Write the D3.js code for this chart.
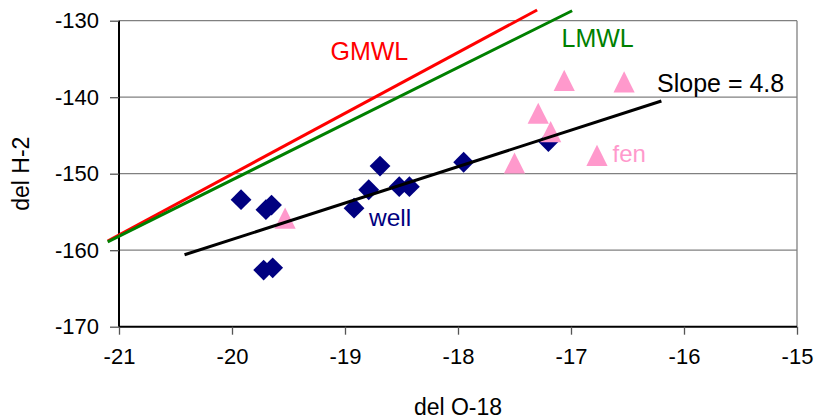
<!DOCTYPE html>
<html><head><meta charset="utf-8">
<script src="https://cdn.jsdelivr.net/npm/d3@7"></script>
<style>body{margin:0;background:#fff}svg{display:block;font-family:"Liberation Sans",Arial,sans-serif}</style>
</head><body><svg id="c" width="818" height="420"></svg>
<script>
// data
const wellO18 = [-19.92,-19.70,-19.65,-19.72,-19.64,-18.92,-18.79,-18.69,-18.52,-18.43,-17.95,-17.20];
const wellH2  = [-153.4,-154.7,-154.1,-162.6,-162.3,-154.5,-152.1,-149.0,-151.7,-151.7,-148.5,-145.8];
const fenO18  = [-19.53,-17.06,-16.53,-17.29,-17.18,-17.50,-16.77];
const fenH2   = [-155.8,-137.8,-138.0,-142.1,-144.5,-148.6,-147.6];
const gmwlO18 = [-21.1,-17.3];
const gmwlH2  = [-158.8,-128.6];
const lmwlO18 = [-21.1,-16.99];
const lmwlH2  = [-158.9,-128.7];
const slopeO18 = [-20.42,-16.20];
const slopeH2  = [-160.6,-140.5];
const xTicks = [-21,-20,-19,-18,-17,-16,-15];
const yTicks = [-170,-160,-150,-140,-130];

const svg = d3.select("#c");
const L=119,R=797,T=20.7,B=326.7;
const x = d3.scaleLinear().domain([-21,-15]).range([L,R]);
const y = d3.scaleLinear().domain([-170,-130]).range([B,T]);
const fmt = d => String(d);

// gridlines
svg.append("g").selectAll("line").data(yTicks.filter(d=>d>-170)).join("line")
  .attr("x1",L).attr("x2",R).attr("y1",d=>y(d)).attr("y2",d=>y(d))
  .attr("stroke","#808080").attr("stroke-width",1.3);
// right border
svg.append("line").attr("x1",R).attr("x2",R).attr("y1",T).attr("y2",B).attr("stroke","#808080").attr("stroke-width",1.3);

// axes
const xAxis = d3.axisBottom(x).tickValues(xTicks).tickSize(8).tickPadding(14).tickFormat(fmt);
const gx = svg.append("g").attr("transform",`translate(0,${B})`).call(xAxis);
const yAxis = d3.axisLeft(y).tickValues(yTicks).tickSize(9).tickPadding(11).tickFormat(fmt);
const gy = svg.append("g").attr("transform",`translate(${L},0)`).call(yAxis);
[gx,gy].forEach(g=>{
  g.select(".domain").attr("stroke","#000").attr("stroke-width",2);
  g.selectAll(".tick line").attr("stroke","#555").attr("stroke-width",1.3);
  g.selectAll(".tick text").attr("font-size",22).attr("fill","#000").attr("font-family","Liberation Sans, Arial, sans-serif");
});
gx.select(".domain").attr("d",`M${L},0H${R}`);
gy.select(".domain").attr("d",`M0,${B}V${T}`);
gx.selectAll(".tick text").attr("dy","0.71em");

// axis titles
svg.append("text").attr("x",(L+R)/2).attr("y",415).attr("text-anchor","middle")
  .attr("font-size",23).text("del O-18");
svg.append("text").attr("transform",`translate(29,${(T+B)/2}) rotate(-90)`).attr("text-anchor","middle")
  .attr("font-size",23).text("del H-2");

const line = d3.line().x(d=>x(d[0])).y(d=>y(d[1]));
svg.append("path").attr("d",line(d3.zip(gmwlO18,gmwlH2))).attr("stroke","#ff0000").attr("stroke-width",3).attr("fill","none");
svg.append("path").attr("d",line(d3.zip(lmwlO18,lmwlH2))).attr("stroke","#008000").attr("stroke-width",3).attr("fill","none");

// diamonds
const dm=10.4;
svg.append("g").selectAll("path").data(d3.zip(wellO18,wellH2)).join("path")
  .attr("d",`M0,${-dm}L${dm},0L0,${dm}L${-dm},0Z`)
  .attr("transform",d=>`translate(${x(d[0])},${y(d[1])})`).attr("fill","#000080");
// triangles
const tr=10.6;
svg.append("g").selectAll("path").data(d3.zip(fenO18,fenH2)).join("path")
  .attr("d",`M0,${-tr}L${tr},${tr}L${-tr},${tr}Z`)
  .attr("transform",d=>`translate(${x(d[0])},${y(d[1])})`).attr("fill","#ff99cc");

svg.append("path").attr("d",line(d3.zip(slopeO18,slopeH2))).attr("stroke","#000").attr("stroke-width",3).attr("fill","none");

// labels
svg.append("text").attr("x",330.5).attr("y",60).attr("font-size",25).attr("fill","#ff0000").text("GMWL");
svg.append("text").attr("x",561.5).attr("y",47.3).attr("font-size",25).attr("fill","#008000").text("LMWL");
svg.append("text").attr("x",657).attr("y",91.5).attr("font-size",25).attr("fill","#000").text("Slope = 4.8");
svg.append("text").attr("x",369).attr("y",226).attr("font-size",24.5).attr("fill","#000080").text("well");
svg.append("text").attr("x",612.5).attr("y",161.5).attr("font-size",24).attr("fill","#ff99cc").text("fen");
</script></body></html>
